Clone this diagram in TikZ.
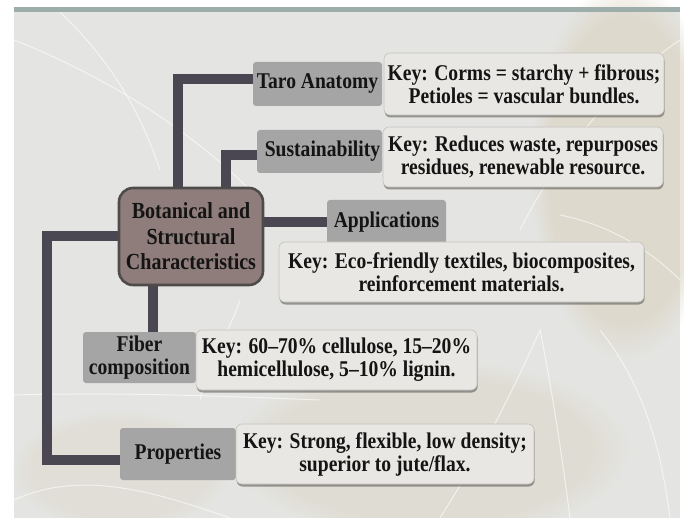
\documentclass[tikz,border=0pt]{standalone}
\usepackage{fontspec}
\setmainfont{Liberation Serif}
\newfontfamily\condserif{Liberation Serif}[FakeStretch=0.87]
\usetikzlibrary{shadows,fadings,backgrounds}
\definecolor{bgbase}{HTML}{E4E5E2}
\definecolor{beige}{HTML}{D9D0BD}
\definecolor{topband}{HTML}{9DAEAA}
\definecolor{conncol}{HTML}{4A4753}
\definecolor{lblgrey}{HTML}{A5A5A5}
\definecolor{keyfill}{HTML}{E9E7E4}
\definecolor{keyedge}{HTML}{C4C1BC}
\definecolor{cfill}{HTML}{8F7D7B}
\definecolor{cedge}{HTML}{504B4B}
\definecolor{txt}{HTML}{141414}
\newcommand\diagfont{\condserif\fontsize{22.5}{23}\selectfont\bfseries}
\begin{document}
\begin{tikzpicture}[x=1pt,y=-1pt,
  conn/.style={draw=conncol,line width=10pt,line join=miter},
  lbl/.style={fill=lblgrey,rounded corners=3pt,inner sep=0pt,align=center,font=\diagfont,text=txt},
  keyb/.style={fill=keyfill,draw=keyedge,line width=0.6pt,rounded corners=6pt,inner sep=0pt,align=center,font=\diagfont,text=txt,
    drop shadow={shadow xshift=0.6pt,shadow yshift=-2.5pt,opacity=0.45,fill=black!80}},
  cbox/.style={fill=cfill,draw=cedge,line width=2.6pt,rounded corners=14pt,inner sep=0pt,align=center,
    font=\condserif\fontsize{23}{25.5}\selectfont\bfseries,text=txt},
  vein/.style={draw=white,line width=1pt,opacity=0.6}]
\useasboundingbox (0,0) rectangle (684,518);

% nodes
\node[cbox,minimum width=144pt,minimum height=97pt] (central) at (191,236.5) {Botanical and\\Structural\\Characteristics};
\node[lbl,minimum width=129pt,minimum height=44pt] (taro) at (317.5,84) {Taro Anatomy};
\node[keyb,minimum width=280pt,minimum height=62pt] (tarokey) at (524,84) {Key: Corms = starchy + fibrous;\\Petioles = vascular bundles.};
\node[lbl,minimum width=125pt,minimum height=43pt] (sust) at (319.5,151.5) {\hspace*{6pt}Sustainability};
\node[keyb,minimum width=280pt,minimum height=60pt] (sustkey) at (523,157) {Key: Reduces waste, repurposes\\residues, renewable resource.};
\node[lbl,minimum width=119pt,minimum height=44pt] (app) at (386.5,222) {Applications};
\node[keyb,minimum width=365pt,minimum height=60pt] (appkey) at (461.5,272) {Key: Eco-friendly textiles, biocomposites,\\reinforcement materials.};
\node[lbl,minimum width=113pt,minimum height=51pt] (fiber) at (139.5,357.5) {Fiber\\composition};
\node[keyb,minimum width=281pt,minimum height=60pt] (fiberkey) at (336.5,360) {Key: 60–70\% cellulose, 15–20\%\\hemicellulose, 5–10\% lignin.};
\node[lbl,minimum width=116pt,minimum height=52pt] (prop) at (178,454) {Properties};
\node[keyb,minimum width=298pt,minimum height=60pt] (propkey) at (385,454) {Key: Strong, flexible, low density;\\superior to jute/flax.};

\coordinate (tx) at (178,0);
\coordinate (sx) at (226,0);
\coordinate (fx) at (153,0);
\coordinate (lx) at (47,0);

\begin{pgfonlayer}{background}
  \fill[white] (0,0) rectangle (684,518);
  \fill[bgbase] (14,7) rectangle (680,518);
  \fill[beige,path fading=circle with fuzzy edge 20 percent,opacity=0.55] (625,170) ellipse (95 and 190);
  \fill[beige,path fading=circle with fuzzy edge 20 percent,opacity=0.4] (430,450) ellipse (200 and 90);
  \fill[beige,path fading=circle with fuzzy edge 20 percent,opacity=0.3] (120,470) ellipse (110 and 60);
  % leaf veins
  \draw[vein] (14,40) .. controls (90,70) and (180,120) .. (250,190);
  \draw[vein] (60,12) .. controls (110,60) and (140,110) .. (160,170);
  \draw[vein] (680,40) .. controls (620,80) and (560,150) .. (520,230);
  \draw[vein] (560,215) .. controls (610,225) and (650,250) .. (680,280);
  \draw[vein] (14,395) .. controls (120,392) and (220,396) .. (320,400);
  \draw[vein] (540,330) .. controls (550,380) and (560,440) .. (570,518);
  \draw[vein] (600,330) .. controls (640,380) and (660,440) .. (670,518);
  \draw[vein] (14,500) .. controls (80,470) and (150,490) .. (230,518);
  \draw[vein] (240,300) .. controls (230,330) and (210,360) .. (200,400);
  \draw[vein] (440,518) .. controls (470,470) and (500,420) .. (540,330);
  \fill[topband] (14,7) rectangle (680,12);
  % connectors
  \draw[conn] (central.north -| tx) |- ([yshift=5pt]taro.west);
  \draw[conn] (central.north -| sx) |- ([yshift=-3.5pt]sust.west);
  \draw[conn] (central.east |- app.west) -- (app.west);
  \draw[conn] (central.south -| fx) -- (fiber.north -| fx);
  \draw[conn] (central.west) -- (central.west -| lx) |- ([yshift=-6pt]prop.west);
\end{pgfonlayer}
\end{tikzpicture}
\end{document}
